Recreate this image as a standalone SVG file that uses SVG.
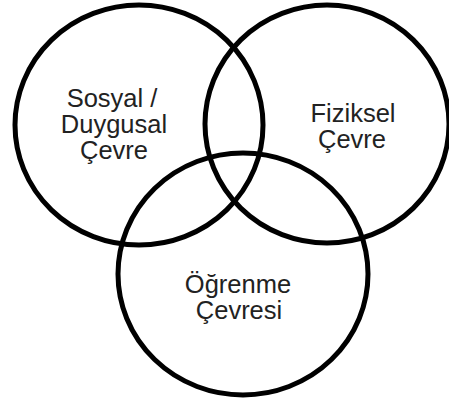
<svg xmlns="http://www.w3.org/2000/svg" width="449" height="398" viewBox="0 0 449 398">
<style>
.c{fill:none;stroke:#000;stroke-width:5}
.t{font-family:"Liberation Sans",Arial,sans-serif;font-size:25.5px;fill:#222;text-anchor:middle}
</style>
<rect width="449" height="398" fill="#fff"/>
<g id="connectors"></g>
<g id="social">
<ellipse class="c" cx="139" cy="125" rx="124" ry="120"/>
<text class="t" x="112" y="107">Sosyal /</text>
<text class="t" x="114" y="133">Duygusal</text>
<text class="t" x="114" y="159">Çevre</text>
</g>
<g id="physical">
<ellipse class="c" cx="327" cy="124" rx="122" ry="119"/>
<text class="t" x="353" y="122">Fiziksel</text>
<text class="t" x="352" y="148">Çevre</text>
</g>
<g id="learning">
<ellipse class="c" cx="243" cy="274" rx="125" ry="121"/>
<text class="t" x="238" y="293">Öğrenme</text>
<text class="t" x="239" y="319">Çevresi</text>
</g>
</svg>
